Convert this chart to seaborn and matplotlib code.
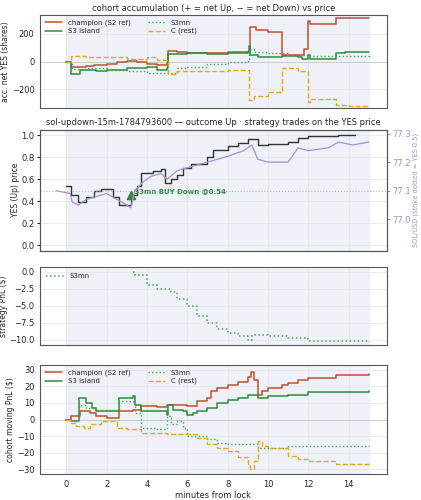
import matplotlib
matplotlib.use("Agg")
import matplotlib.pyplot as plt
import seaborn as sns
import numpy as np

sns.set_style("white")
plt.rcParams['font.family'] = ['DejaVu Sans']
plt.rcParams['font.size'] = 6

C_CH = "#c1502e"; C_S3 = "#2f8a3c"; C_MN = "#4aa35a"; C_C = "#e3a820"; C_SOL = "#a88fcf"

# Panel 1: cohort shares
sh_ch_t = [0,0.25,1,1.4,2,2.5,3,3.5,4,4.5,5,5.05,5.5,6,7,8,9,9.1,9.4,10,10.7,11.5,11.8,12,12.1,13.4,15]
sh_ch_v = [0,-40,-35,-25,-15,0,5,-5,-15,-25,-10,75,70,60,62,65,65,250,225,215,50,45,90,290,270,310,315]
sh_s3_t = [0,0.25,0.7,1.5,2,3,4,4.5,5,5.05,6,7,8,9,9.05,9.1,9.5,10.7,11.5,11.7,12,12.1,13.4,13.8,15]
sh_s3_v = [0,-90,-60,-65,-60,-50,-40,-60,-50,55,60,55,60,65,110,50,35,40,30,20,50,20,60,70,70]
sh_mn_t = [0,0.3,1,2,3,4,4.5,5,5.5,6,7,8,9,9.05,9.3,10,11,12,15]
sh_mn_v = [0,-55,-50,-60,-70,-80,-85,-80,-50,-40,-20,0,20,90,70,60,50,40,35]
sh_c_t = [0,0.25,1,1.5,3,4,4.5,5,5.05,5.5,7,8,9,9.05,9.3,10,10.7,11.5,12,12.1,13.4,14,15]
sh_c_v = [0,40,35,30,20,30,10,0,-90,-70,-65,-60,-60,-280,-250,-220,-45,-70,-290,-270,-310,-320,-320]

# Panel 2: YES price and SOL
yes_t = [0,0.25,0.6,1,1.4,1.7,2.3,2.6,3.2,3.5,3.7,4.3,4.7,4.9,5.2,5.5,5.8,6.2,7,7.3,8,8.5,9,9.5,10,11,11.5,12,13.5,14.3]
yes_v = [0.54,0.46,0.39,0.44,0.49,0.51,0.44,0.37,0.46,0.54,0.66,0.67,0.69,0.57,0.60,0.64,0.70,0.74,0.80,0.86,0.90,0.93,0.96,0.91,0.92,0.94,0.97,0.99,1.0,1.0]
sol_t = [-0.5,0.2,0.3,0.6,1,1.5,2,2.5,3,3.2,3.4,3.8,4.2,4.7,5,5.5,6,7,8,8.8,9.2,9.5,10,11,11.5,12,13,13.5,14.2,15]
sol_v = [77.10,77.09,77.06,77.05,77.07,77.08,77.09,77.07,77.05,77.04,77.10,77.13,77.15,77.16,77.14,77.17,77.18,77.20,77.22,77.24,77.26,77.21,77.20,77.20,77.25,77.24,77.25,77.27,77.26,77.27]
buy_t = [3.2]; buy_p = [0.46]

# Panel 3: strategy PnL
pnl_t = [3.3,3.4,4,4.5,5.2,5.5,6,6.5,7,7.5,8,8.5,9,9.2,10,11,12,15]
pnl_v = [0,-0.5,-2,-2.5,-3,-4,-5,-6.5,-7.5,-8.5,-9,-9.5,-10,-9.3,-9.5,-9.8,-10.2,-10.3]

# Panel 4: moving PnL
mv_ch_t = [0,0.25,0.7,1.2,1.5,2,2.6,3.3,3.7,4.5,5,6,6.5,7,7.2,7.5,8,8.5,9,9.15,9.3,9.5,9.7,10,10.7,11,11.5,12,13.4,15]
mv_ch_v = [0,2,5,4,2,1,5,6,8,7.5,9,8,11,13,17,19,21,23,26,29,24,15,17,19,21,22,24,25,27,27.5]
mv_s3_t = [0,0.25,0.65,1,1.3,1.5,2.6,3.3,3.4,3.7,5,5.05,5.3,5.8,6,6.3,6.5,7,7.5,8,8.5,9,9.5,10,11,12,15]
mv_s3_v = [0,-1,13,10,7,5,13,14,9,5,3,9,6,5,3,4,5,7,10,12,13,15,13,14,15,16.5,17]
mv_mn_t = [0,0.65,1,1.5,2.6,3.3,3.4,3.7,4.5,5,5.2,5.5,5.8,6,7,7.5,8,9,9.5,10,11,12,15]
mv_mn_v = [0,9,7,6,11,10,4,-5,-6,2,-3,-1,-5,-10,-12,-14,-15,-15,-17,-17,-16,-16,-16]
mv_c_t = [0,0.25,0.5,0.9,1.2,1.7,2.5,3,3.7,4.5,5,6,6.5,7,7.5,8,8.5,9,9.1,9.3,9.5,9.7,10,11,11.5,12,13.4,15]
mv_c_v = [0,-2,-4,-5,-3,-1,-5,-6,-8,-8,-9,-9,-11,-15,-17,-19,-23,-27,-30,-25,-13,-16,-17,-22,-24,-25,-27,-27]

fig = plt.figure(figsize=(4.21, 5.0), dpi=100)
L, W = 0.095, 0.824
ax1 = fig.add_axes([L, 0.784, W, 0.186])
ax2 = fig.add_axes([L, 0.498, W, 0.243], sharex=ax1)
ax3 = fig.add_axes([L, 0.31, W, 0.156], sharex=ax1)
ax4 = fig.add_axes([L, 0.052, W, 0.218], sharex=ax1)

for ax in (ax1, ax2, ax3, ax4):
    ax.axvspan(0, 15, color="#eef1f8", zorder=0)
    ax.grid(True, color="#e4e4e4", lw=0.5)
    for s in ax.spines.values():
        s.set_color("#555555")
    ax.tick_params(length=2.5, labelsize=6, pad=1.5)

def step(ax, t, v, color, ls, lw, label=None):
    sns.lineplot(x=t, y=v, ax=ax, color=color, ls=ls, lw=lw, drawstyle="steps-post", label=label, legend=False, estimator=None, sort=False)

for ax, series in ((ax1, [(sh_ch_t, sh_ch_v), (sh_s3_t, sh_s3_v), (sh_mn_t, sh_mn_v), (sh_c_t, sh_c_v)]),
                   (ax4, [(mv_ch_t, mv_ch_v), (mv_s3_t, mv_s3_v), (mv_mn_t, mv_mn_v), (mv_c_t, mv_c_v)])):
    ax.axhline(0, color="#cccccc", lw=0.7, zorder=1)
    step(ax, *series[0], C_CH, "-", 1.1, "champion (S2 ref)")
    step(ax, *series[1], C_S3, "-", 1.1, "S3 island")
    step(ax, *series[2], C_MN, ":", 1.0, "S3mn")
    step(ax, *series[3], C_C, "--", 1.0, "C (rest)")
    ax.legend(ncol=2, loc="upper left", frameon=False, fontsize=5, handlelength=2.5, columnspacing=2.5, borderaxespad=0.3, labelspacing=0.3)

ax1.set_ylim(-335, 335)
ax1.set_yticks([-200, 0, 200])
ax1.set_ylabel("acc. net YES (shares)", fontsize=5.5, labelpad=1)
ax1.set_title("cohort accumulation (+ = net Up, − = net Down) vs price", fontsize=6, pad=3)

step(ax2, yes_t, yes_v, "#333333", "-", 1.0)
ax2.set_ylim(-0.05, 1.05)
ax2.set_ylabel("YES (Up) price", fontsize=5.5, labelpad=1)
ax2.set_title("sol-updown-15m-1784793600 — outcome Up · strategy trades on the YES price", fontsize=6, pad=3)
ax2.scatter(buy_t, buy_p, marker="^", s=35, color=C_S3, zorder=5)
ax2.annotate("S3mn BUY Down @0.54", (buy_t[0], buy_p[0]), xytext=(2, 1), textcoords="offset points",
             fontsize=5, color=C_S3, fontweight="bold")
ax2b = ax2.twinx()
sns.lineplot(x=sol_t, y=sol_v, ax=ax2b, color=C_SOL, lw=0.9, estimator=None, sort=False)
ax2b.axhline(77.1, color="#bbbbbb", ls=":", lw=0.8)
ax2b.set_ylim(76.889, 77.314)
ax2b.set_yticks([77.0, 77.1, 77.2, 77.3])
ax2b.tick_params(colors=C_SOL, labelsize=6, length=2.5, pad=1.5)
ax2b.set_ylabel("SOL/USD (strike dotted = YES 0.5)", color=C_SOL, fontsize=4.8, labelpad=1)
for s in ax2b.spines.values():
    s.set_color("#555555")

step(ax3, pnl_t, pnl_v, C_MN, ":", 1.1, "S3mn")
ax3.set_ylim(-10.8, 0.7)
ax3.set_yticks([0, -2.5, -5, -7.5, -10])
ax3.set_ylabel("strategy PnL ($)", fontsize=5.5, labelpad=1)
ax3.legend(loc="upper left", frameon=False, fontsize=5, handlelength=2.5)

ax4.set_ylim(-33, 33)
ax4.set_yticks([-30, -20, -10, 0, 10, 20, 30])
ax4.set_ylabel("cohort moving PnL ($)", fontsize=5.5, labelpad=1)
ax4.set_xlabel("minutes from lock", fontsize=6, labelpad=2)

ax1.set_xlim(-1.3, 15.9)
ax1.set_xticks([0, 2, 4, 6, 8, 10, 12, 14])
for ax in (ax1, ax2, ax3):
    ax.tick_params(labelbottom=False)

fig.savefig("out.png", dpi=100)
